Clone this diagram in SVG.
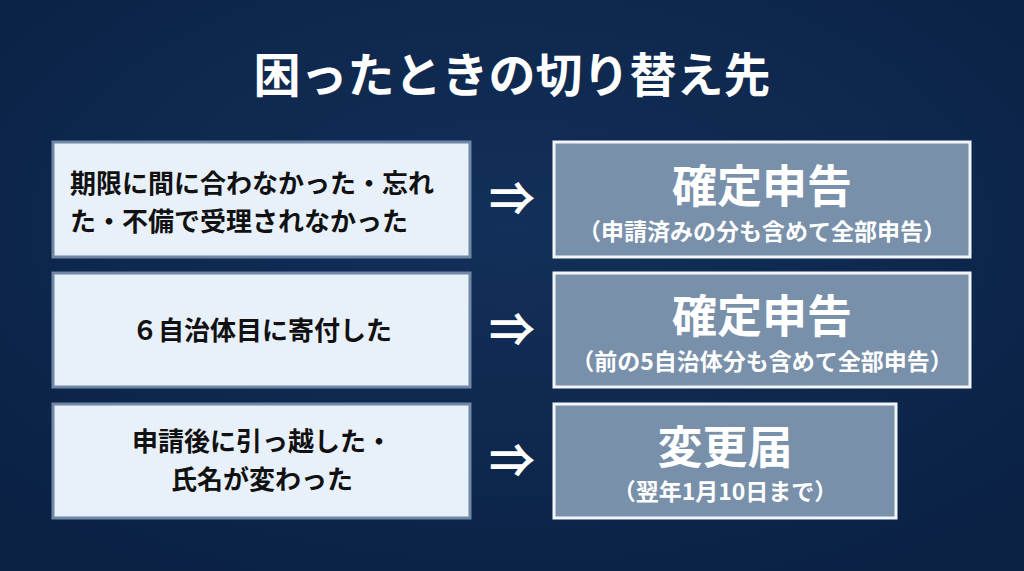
<svg xmlns="http://www.w3.org/2000/svg" width="1024" height="571" viewBox="0 0 1024 571">
<defs>
<radialGradient id="bg" cx="50%" cy="40%" r="70%"><stop offset="0" stop-color="#13305a"/><stop offset="1" stop-color="#0a2144"/></radialGradient>
<style>
.l{fill:#e8f0fa;stroke:#7088a6;stroke-width:3}
.r{fill:#7990ab;stroke:#f2f5f9;stroke-width:3}
.t{font-family:"Noto Sans CJK JP","Noto Sans",sans-serif;font-weight:bold}
.lt{font-size:26px;fill:#111}
.big{font-size:45px;fill:#fff;text-anchor:middle}
.sm{font-size:23px;fill:#fff;text-anchor:middle}
.ar{font-size:46px;fill:#fff;text-anchor:middle}
</style>
</defs>
<rect width="1024" height="571" fill="url(#bg)"/>
<text class="t" x="512" y="92" font-size="47" fill="#fff" text-anchor="middle">困ったときの切り替え先</text>
<g id="l1"><rect class="l" x="53" y="142" width="417" height="115"/><text class="t lt" x="70" y="193">期限に間に合わなかった・忘れ</text><text class="t lt" x="70" y="231">た・不備で受理されなかった</text></g>
<g id="l2"><rect class="l" x="53" y="273" width="417" height="114"/><text class="t lt" x="262" y="340" text-anchor="middle">６自治体目に寄付した</text></g>
<g id="l3"><rect class="l" x="53" y="404" width="417" height="114"/><text class="t lt" x="262" y="451" text-anchor="middle">申請後に引っ越した・</text><text class="t lt" x="262" y="489" text-anchor="middle">氏名が変わった</text></g>
<g id="r1"><rect class="r" x="554" y="142" width="416" height="115"/><text class="t big" x="762" y="203">確定申告</text><text class="t sm" x="762" y="240">（申請済みの分も含めて全部申告）</text></g>
<g id="r2"><rect class="r" x="554" y="273" width="416" height="114"/><text class="t big" x="762" y="333">確定申告</text><text class="t sm" x="762" y="370">（前の5自治体分も含めて全部申告）</text></g>
<g id="r3"><rect class="r" x="554" y="404" width="342" height="114"/><text class="t big" x="725" y="464">変更届</text><text class="t sm" x="725" y="500">（翌年1月10日まで）</text></g>
<g id="connectors"><text class="t ar" x="512" y="215">⇒</text><text class="t ar" x="512" y="346">⇒</text><text class="t ar" x="512" y="477">⇒</text></g>
</svg>
